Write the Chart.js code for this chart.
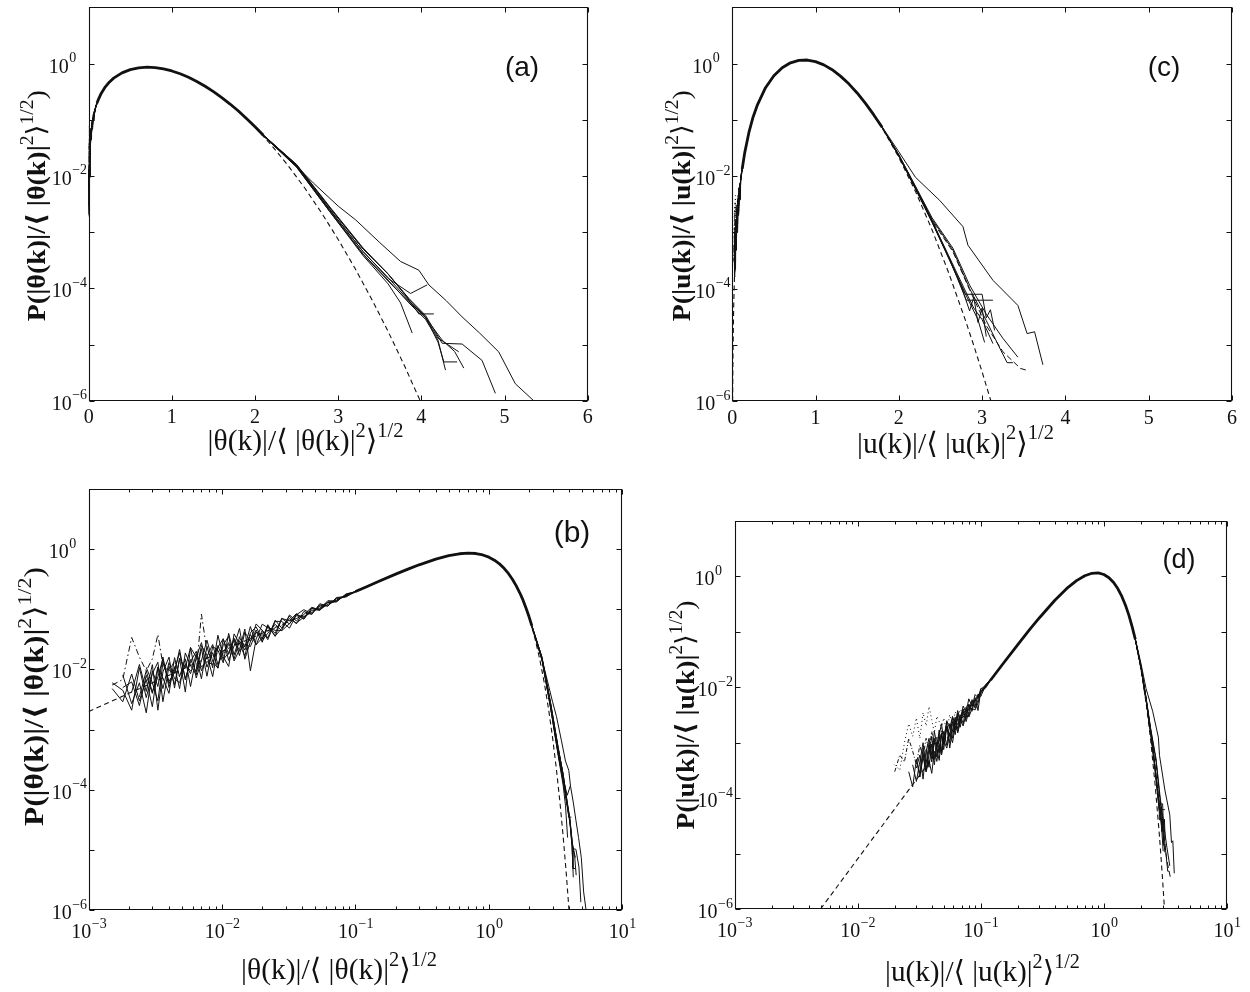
<!DOCTYPE html>
<html>
<head>
<meta charset="utf-8">
<title>PDFs of normalized Fourier amplitudes</title>
<script src="https://cdn.jsdelivr.net/npm/chart.js@4.4.1/dist/chart.umd.min.js"></script>
<style>
html,body{margin:0;padding:0;background:#fff;overflow:hidden;width:1250px;height:992px;}
canvas{position:absolute;left:0;top:0;}
</style>
</head>
<body>
<canvas id="pa" width="1250" height="992"></canvas>
<canvas id="pc" width="1250" height="992"></canvas>
<canvas id="pb" width="1250" height="992"></canvas>
<canvas id="pd" width="1250" height="992"></canvas>
<script>
// ---------------- tick values / labels ----------------
const yTickValues = [1e-6, 1e-5, 1e-4, 1e-3, 1e-2, 1e-1, 1, 10];
const yLabelExps = [0, -2, -4, -6];
const xLinTicks = [0, 1, 2, 3, 4, 5, 6];
const xLogTicks = [1e-3, 1e-2, 1e-1, 1, 10];
const xLogExps = [-3, -2, -1, 0, 1];
const xMinorMult = [2, 3, 4, 5, 6, 7, 8, 9];

// ---------------- scalar |theta(k)| data (panels a, b) ----------------
const thetaModel = [[0.001,0.002],[0.002,0.004],[0.005,0.01],[0.01,0.02],[0.02,0.04],[0.05,0.0995],[0.1,0.198],[0.15,0.293],[0.2,0.384],[0.3,0.549],[0.4,0.682],[0.5,0.779],[0.6,0.838],[0.7,0.858],[0.8,0.844],[0.9,0.80],[1.0,0.736],[1.2,0.569],[1.4,0.394],[1.6,0.246],[1.8,0.141],[2.0,0.0733],[2.2,0.0348],[2.4,0.0151],[2.6,0.00602],[2.8,0.0022],[3.0,0.00074],[3.2,0.000229],[3.4,0.0000652],[3.6,0.0000171],[3.8,0.0000041],[3.9,0.0000019],[4.0,0.0000009],[4.05,0.0000006]];

const thetaLowX = [0.0015,0.0018,0.0021,0.0024,0.0027,0.003,0.0033,0.0036,0.004,0.0044,0.0048,0.0053,0.0058,0.0064,0.007,0.0077,0.0085,0.0093,0.0102,0.0112,0.0123,0.0135,0.0148,0.0163,0.018,0.02,0.022,0.025,0.028,0.032,0.036,0.041,0.047,0.054,0.062,0.072,0.085,0.1];
const thetaLow1 = [.0048,.0029,.0084,.0030,.0068,.0024,.0105,.0072,.0040,.0157,.0076,.0150,.0052,.0161,.0279,.0109,.0191,.0105,.0323,.0178,.0310,.0170,.0418,.0291,.0453,.0283,.0529,.0397,.0705,.0570,.0827,.0682,.103,.0962,.133,.134,.178,.196];
const thetaLow2 = [null,.0081,.0027,.0060,.0019,.0095,.0052,.0161,.0050,.0111,.0048,.0188,.0116,.0081,.0222,.0077,.0240,.0209,.0129,.0398,.0174,.0340,.0235,.0517,.0255,.0449,.0334,.0659,.0488,.0769,.0572,.0920,.0819,.124,.113,.153,.160,.200];
const thetaLow3 = [null,null,.0042,.0121,.0043,.0120,.0021,.0091,.0160,.0049,.0152,.0042,.0231,.0161,.0070,.0244,.0107,.0371,.0162,.0112,.0390,.0270,.0166,.0410,.0509,.0318,.0554,.0354,.0705,.0640,.0846,.0698,.105,.101,.139,.137,.176,.191];
const thetaLow4 = [null,null,null,null,.0108,.0060,.0030,.0128,.0064,.0088,.0215,.0067,.0146,.0091,.0249,.0173,.0076,.0234,.0323,.0141,.0246,.0480,.0148,.0290,.0571,.0449,.0312,.0630,.0628,.0486,.0808,.0986,.0838,.118,.113,.157,.164,.196];
const thetaLow5 = [.0060,.0045,.0021,.0107,.0034,.0085,.0132,.0029,.0113,.0056,.0152,.0106,.0231,.0072,.0140,.0307,.0135,.0105,.0257,.0355,.0138,.0214,.0469,.0095,.0321,.0565,.0494,.0446,.0445,.0806,.0642,.0820,.108,.0962,.130,.133,.180,.196];
const thetaLow6 = [.0055,.0068,.0340,.0160,.0095,.0150,.0380,.0120,.0090,.0140,.0075,.0120,.0095,.0093,.0830,.0200,.0150,.0250,.0170,.0260,.0230,.0350,.0240,.0330,.0400,.0370,.0450,.0480,.0540,.0650,.0700,.0800,.0910,.105,.120,.140,.165,.196];
const thetaLow7 = [null,null,null,.0035,.0095,.0042,.0075,.0150,.0058,.0098,.0190,.0070,.0135,.0200,.0095,.0165,.0260,.0120,.0190,.0280,.0150,.0300,.0210,.0380,.0260,.0330,.0520,.0360,.0480,.0700,.0590,.0740,.0960,.0990,.120,.150,.166,.197];
const thetaLow8 = [null,.0050,.0062,.0025,.0080,.0040,.0110,.0048,.0130,.0070,.0060,.0125,.0085,.0180,.0110,.0135,.0120,.0250,.0145,.0190,.0330,.0200,.0260,.0240,.0420,.0300,.0400,.0560,.0440,.0580,.0780,.0760,.0880,.112,.128,.140,.172,.198];

const thetaMid = [[0.1,0.198],[0.12,0.235],[0.15,0.293],[0.2,0.384],[0.25,0.47],[0.3,0.549],[0.4,0.682],[0.5,0.779],[0.6,0.838],[0.7,0.86],[0.8,0.846],[0.9,0.80],[1.0,0.736],[1.1,0.656],[1.2,0.569],[1.3,0.480],[1.4,0.394],[1.5,0.316],[1.6,0.247],[1.7,0.190],[1.8,0.143],[1.9,0.104],[2.0,0.075],[2.1,0.053]];

const thetaTail1 = [[2.1,0.054],[2.4,0.021],[2.7,0.0075],[3.0,0.0029],[3.21,0.00165],[3.5,0.00065],[3.75,0.0003],[3.97,0.00021],[4.09,0.000115],[4.3,0.00006],[4.49,0.000031],[4.7,0.000016],[4.93,0.0000074],[5.13,0.000002],[5.35,0.000001]];
const thetaTail2 = [[2.1,0.053],[2.5,0.016],[2.9,0.0028],[3.3,0.00052],[3.6,0.00018],[3.85,0.000066],[4.05,0.000033],[4.25,0.0000105],[4.49,0.0000102],[4.73,0.0000052],[4.89,0.00000135]];
const thetaTail3 = [[2.1,0.052],[2.5,0.0142],[2.9,0.0023],[3.3,0.00038],[3.6,0.00012],[3.75,0.000055],[3.89,0.000016]];
const thetaTail4 = [[2.1,0.052],[2.5,0.015],[2.9,0.0025],[3.3,0.00045],[3.6,0.00015],[3.87,0.000081],[4.07,0.000115]];
const thetaTail5 = [[2.1,0.053],[2.5,0.0158],[2.9,0.0027],[3.3,0.0005],[3.6,0.00018],[3.8,0.000078],[3.97,0.000035],[4.15,0.000035]];
const thetaTail6 = [[2.1,0.052],[2.5,0.0148],[2.9,0.0024],[3.3,0.00041],[3.6,0.00014],[3.85,0.000055],[4.05,0.000028],[4.2,0.000012],[4.29,0.0000035]];
const thetaTail7 = [[2.1,0.052],[2.5,0.015],[2.9,0.0025],[3.3,0.00045],[3.6,0.000155],[3.85,0.00006],[4.05,0.00003],[4.25,0.000012],[4.4,0.0000075],[4.51,0.0000038]];
const thetaTail8 = [[2.1,0.053],[2.5,0.0155],[2.9,0.0027],[3.3,0.0005],[3.6,0.00018],[3.85,0.000064],[4.05,0.000031],[4.2,0.000011],[4.27,0.0000049],[4.43,0.0000049]];
const thetaTail9 = [[2.1,0.052],[2.5,0.0145],[2.9,0.0023],[3.3,0.0004],[3.6,0.000135],[3.85,0.000058],[4.05,0.00003],[4.2,0.000013],[4.45,0.0000074]];

// ---------------- velocity |u(k)| data (panels c, d) ----------------
const velModel = [[0.005,0.000001],[0.007,0.00000274],[0.01,0.000008],[0.015,0.000027],[0.02,0.000064],[0.03,0.000216],[0.05,0.000995],[0.07,0.00271],[0.1,0.00784],[0.15,0.0258],[0.2,0.0591],[0.3,0.180],[0.4,0.372],[0.5,0.607],[0.6,0.841],[0.7,1.03],[0.8,1.139],[0.9,1.155],[1.0,1.083],[1.1,0.947],[1.2,0.776],[1.4,0.436],[1.6,0.196],[1.8,0.0715],[2.0,0.0215],[2.2,0.00533],[2.4,0.0011],[2.6,0.000188],[2.8,0.0000272],[2.9,0.0000097],[3.0,0.0000033],[3.1,0.00000107],[3.15,0.0000006]];

const velLowX = [0.02,0.022,0.024,0.026,0.028,0.03,0.032,0.034,0.036,0.038,0.04,0.042,0.044,0.046,0.048,0.05,0.053,0.056,0.059,0.062,0.065,0.068,0.072,0.076,0.08,0.085,0.09,0.095,0.1,0.11,0.12];
const velLow1 = [null,null,null,3.0e-4,1.6e-4,5.0e-4,2.4e-4,6.5e-4,3.0e-4,8.0e-4,4.5e-4,1.1e-3,5.5e-4,1.3e-3,7.0e-4,1.6e-3,9.0e-4,2.2e-3,1.2e-3,2.6e-3,1.8e-3,3.2e-3,2.2e-3,4.4e-3,3.0e-3,5.6e-3,4.6e-3,7.6e-3,6.8e-3,1.12e-2,1.38e-2];
const velLow2 = [null,null,null,null,null,3.5e-4,6.0e-4,2.2e-4,7.5e-4,3.6e-4,9.5e-4,4.0e-4,1.0e-3,6.5e-4,1.5e-3,7.5e-4,1.9e-3,1.0e-3,2.4e-3,1.4e-3,3.0e-3,1.9e-3,3.6e-3,2.7e-3,5.0e-3,3.7e-3,6.5e-3,3.8e-3,8.6e-3,9.8e-3,1.32e-2];
const velLow3 = [null,null,null,null,4.0e-4,2.0e-4,4.5e-4,1.0e-3,3.2e-4,6.0e-4,1.3e-3,5.0e-4,8.5e-4,1.7e-3,6.0e-4,1.2e-3,2.3e-3,8.0e-4,1.7e-3,2.9e-3,1.5e-3,2.3e-3,4.0e-3,2.4e-3,3.6e-3,6.0e-3,4.2e-3,5.9e-3,9.5e-3,1.0e-2,1.4e-2];
const velLow4 = [null,null,null,null,null,null,2.4e-4,5.5e-4,3.0e-4,4.8e-4,2.8e-4,7.0e-4,4.6e-4,9.0e-4,6.0e-4,1.1e-3,8.0e-4,1.5e-3,1.0e-3,2.0e-3,1.6e-3,2.6e-3,2.0e-3,3.3e-3,2.9e-3,4.1e-3,3.9e-3,5.2e-3,7.9e-3,1.07e-2,1.35e-2];
const velLow5 = [null,null,null,null,null,null,null,null,7.0e-4,1.2e-3,6.0e-4,1.6e-3,9.0e-4,1.4e-3,2.2e-3,1.1e-3,2.5e-3,1.8e-3,3.0e-3,2.1e-3,3.8e-3,2.6e-3,4.6e-3,3.5e-3,6.2e-3,4.5e-3,7.4e-3,6.5e-3,9.0e-3,1.12e-2,1.40e-2];
const velLow6 = [4.0e-4,3.2e-4,1.0e-3,2.2e-3,1.3e-3,2.8e-3,1.2e-3,3.5e-3,2.0e-3,4.5e-3,2.6e-3,1.5e-3,3.0e-3,2.4e-3,1.8e-3,2.8e-3,1.6e-3,3.2e-3,2.0e-3,3.6e-3,2.8e-3,4.0e-3,3.4e-3,4.6e-3,4.2e-3,5.4e-3,5.6e-3,6.8e-3,7.8e-3,1.04e-2,1.34e-2];
const velLow7 = [3.0e-4,6.0e-4,4.5e-4,1.2e-3,7.0e-4,4.0e-4,9.0e-4,5.5e-4,1.2e-3,7.0e-4,1.6e-3,9.0e-4,1.3e-3,8.0e-4,1.7e-3,1.2e-3,2.0e-3,1.4e-3,2.4e-3,1.9e-3,2.8e-3,2.3e-3,3.3e-3,3.0e-3,4.4e-3,4.6e-3,5.5e-3,6.5e-3,7.6e-3,1.05e-2,1.33e-2];
const velLow8 = [null,null,null,null,null,5.0e-4,2.8e-4,8.0e-4,4.2e-4,1.0e-3,5.2e-4,1.2e-3,7.5e-4,4.8e-4,1.4e-3,9.5e-4,2.0e-3,1.3e-3,2.8e-3,1.7e-3,3.4e-3,2.5e-3,4.0e-3,3.2e-3,4.8e-3,4.0e-3,6.0e-3,7.0e-3,8.2e-3,1.1e-2,1.36e-2];

const velMid = [[0.12,0.0134],[0.15,0.0258],[0.2,0.059],[0.25,0.111],[0.3,0.180],[0.4,0.372],[0.5,0.607],[0.6,0.841],[0.7,1.03],[0.8,1.14],[0.9,1.155],[1.0,1.083],[1.1,0.947],[1.2,0.776],[1.3,0.598],[1.4,0.436],[1.5,0.30],[1.6,0.196],[1.7,0.122],[1.8,0.0735]];

const velTail1 = [[1.8,0.075],[2.0,0.027],[2.2,0.0095],[2.49,0.0037],[2.77,0.00126],[2.83,0.00059],[3.13,0.00014],[3.43,0.00005],[3.54,0.0000158],[3.63,0.000017],[3.73,0.0000044]];
const velTail2 = [[1.8,0.074],[2.0,0.024],[2.2,0.0066],[2.4,0.0018],[2.65,0.00052],[2.85,0.000115],[3.05,0.000035],[3.25,0.000013],[3.43,0.000006]];
const velTail3 = [[1.8,0.074],[2.0,0.024],[2.2,0.0064],[2.4,0.0017],[2.65,0.00048],[2.85,0.0001],[3.05,0.000027],[3.2,0.0000095],[3.3,0.0000048],[3.37,0.0000048]];
const velTail4 = [[1.8,0.073],[2.0,0.023],[2.2,0.006],[2.4,0.0016],[2.65,0.00045],[2.85,0.000095],[3.05,0.000022],[3.25,0.0000075],[3.46,0.0000038],[3.54,0.0000035]];
const velTail5 = [[1.8,0.073],[2.0,0.023],[2.2,0.006],[2.4,0.0015],[2.6,0.00036],[2.8,0.00008],[2.95,0.000028],[3.03,0.000011]];
const velTail6 = [[1.8,0.073],[2.0,0.0232],[2.2,0.0061],[2.4,0.0016],[2.6,0.00038],[2.8,0.00009],[2.9,0.000045],[3.0,0.000028],[3.13,0.0000105]];
const velTail7 = [[1.8,0.073],[2.0,0.023],[2.2,0.0062],[2.4,0.0016],[2.6,0.00036],[2.81,0.000062],[3.13,0.000062]];
const velTail8 = [[1.8,0.073],[2.0,0.0228],[2.2,0.0059],[2.4,0.0015],[2.6,0.00034],[2.8,0.000079],[3.0,0.000079],[3.05,0.00003],[3.1,0.000042],[3.15,0.000018]];
const velTail9 = [[1.8,0.073],[2.0,0.023],[2.2,0.006],[2.4,0.00155],[2.6,0.00035],[2.75,0.00011],[2.85,0.00004],[2.9,0.00007],[2.95,0.000025],[3.0,0.000045],[3.05,0.000014]];

// ---------------- helpers ----------------
const SERIF = "'Liberation Serif','Times New Roman','DejaVu Serif','DejaVu Sans',serif";
const SANS = "'Liberation Sans',Arial,'DejaVu Sans',sans-serif";
const INK = '#111';

function pts(pairs){ return pairs.map(p => ({x:p[0], y:p[1]})); }
function gridPts(xs, ys){ const out=[]; xs.forEach((x,i)=>{ if(ys[i]!=null) out.push({x:x, y:ys[i]}); }); return out; }
function lineDs(data, o){
  o = o || {};
  return {data:data, borderColor:INK, borderWidth:o.width||1, borderDash:o.dash||[], pointRadius:0,
          fill:false, tension:0, borderJoinStyle:'round', borderCapStyle:'butt', spanGaps:false};
}
function thetaSets(){
  const ds = [lineDs(pts(thetaModel), {dash:[5,3.5], width:1.1})];
  [thetaLow1,thetaLow2,thetaLow3,thetaLow4,thetaLow5,thetaLow7,thetaLow8].forEach(a => ds.push(lineDs(gridPts(thetaLowX,a))));
  ds.push(lineDs(gridPts(thetaLowX,thetaLow6), {dash:[6,3,1.5,3]}));
  ds.push(lineDs(pts(thetaMid), {width:2.8}));
  [thetaTail1,thetaTail2,thetaTail3,thetaTail4,thetaTail5,thetaTail6,thetaTail7,thetaTail8,thetaTail9]
    .forEach(a => ds.push(lineDs(pts(a))));
  return ds;
}
function velSets(){
  const ds = [lineDs(pts(velModel), {dash:[5,3.5], width:1.1})];
  [velLow1,velLow2,velLow3,velLow4,velLow5,velLow8].forEach(a => ds.push(lineDs(gridPts(velLowX,a))));
  ds.push(lineDs(gridPts(velLowX,velLow6), {dash:[1,3]}));
  ds.push(lineDs(gridPts(velLowX,velLow7), {dash:[4,2,1,2]}));
  ds.push(lineDs(pts(velMid), {width:2.8}));
  [velTail1,velTail2,velTail3,velTail5,velTail6,velTail7,velTail8,velTail9].forEach(a => ds.push(lineDs(pts(a))));
  ds.push(lineDs(pts(velTail4), {dash:[6,3]}));
  return ds;
}

function fnt(size, bold){ return (bold ? 'bold ' : '') + size.toFixed(2) + 'px ' + SERIF; }
function richMeasure(ctx, segs, size, sup){
  let w = 0;
  segs.forEach(s => { ctx.font = fnt(s.sup ? sup : size, s.bold); w += ctx.measureText(s.t).width; });
  return w;
}
function richDraw(ctx, segs, x, base, size, sup, rise){
  segs.forEach(s => {
    ctx.font = fnt(s.sup ? sup : size, s.bold);
    ctx.fillText(s.t, x, s.sup ? base - rise : base);
    x += ctx.measureText(s.t).width;
  });
}
function fitRich(ctx, segs, target){
  const k = target / richMeasure(ctx, segs, 26, 18);
  return {size:26*k, sup:18*k, rise:11.5*k};
}
function expStr(e){ return e < 0 ? '\u2212' + (-e) : String(e); }

function xTitleSegs(v){ return [{t:'|'+v+'(k)|/\u27e8 |'+v+'(k)|'},{t:'2',sup:true},{t:'\u27e9'},{t:'1/2',sup:true}]; }
function yTitleSegs(v){ return [{t:'P(|'+v+'(k)|/\u27e8 |'+v+'(k)|',bold:true},{t:'2',sup:true},{t:'\u27e9'},{t:'1/2',sup:true},{t:')'}]; }

const TICK_FS = 20, TICK_SUP = 14;

function makeAxesPlugin(spec){
  return {
    id: 'paperAxes',
    afterDraw(chart){
      const ctx = chart.ctx, a = chart.chartArea, xs = chart.scales.x, ys = chart.scales.y;
      const L = Math.round(a.left)+0.5, R = Math.round(a.right)-0.5, T = Math.round(a.top)+0.5, B = Math.round(a.bottom)-0.5;
      ctx.save();
      ctx.strokeStyle = '#111'; ctx.lineWidth = 1.1; ctx.setLineDash([]);
      ctx.beginPath(); ctx.rect(L, T, R-L, B-T); ctx.stroke();
      ctx.lineWidth = 1;
      ctx.beginPath();
      yTickValues.forEach(v => {
        const p = Math.round(ys.getPixelForValue(v)) + 0.5;
        ctx.moveTo(L, p); ctx.lineTo(L+5, p); ctx.moveTo(R, p); ctx.lineTo(R-5, p);
      });
      if (spec.xlog) {
        xLogTicks.forEach(v => {
          const p = Math.round(xs.getPixelForValue(v)) + 0.5;
          ctx.moveTo(p, B); ctx.lineTo(p, B-5); ctx.moveTo(p, T); ctx.lineTo(p, T+5);
        });
        xLogTicks.slice(0, -1).forEach(d => xMinorMult.forEach(m => {
          const p = Math.round(xs.getPixelForValue(d*m)) + 0.5;
          ctx.moveTo(p, B); ctx.lineTo(p, B-3); ctx.moveTo(p, T); ctx.lineTo(p, T+3);
        }));
      } else {
        xLinTicks.forEach(v => {
          const p = Math.round(xs.getPixelForValue(v)) + 0.5;
          ctx.moveTo(p, B); ctx.lineTo(p, B-5); ctx.moveTo(p, T); ctx.lineTo(p, T+5);
        });
      }
      ctx.stroke();

      ctx.fillStyle = INK; ctx.textBaseline = 'alphabetic'; ctx.textAlign = 'left';
      // y tick labels
      yLabelExps.forEach(e => {
        const p = ys.getPixelForValue(Math.pow(10, e));
        ctx.font = fnt(TICK_FS); const w10 = ctx.measureText('10').width;
        const xr = a.left - 17 - (e === 0 ? 3 : 0);
        ctx.fillText('10', xr - w10, p + 9);
        ctx.font = fnt(TICK_SUP); ctx.fillText(expStr(e), xr + 0.5, p - 1.5);
      });
      // x tick labels
      if (spec.xlog) {
        xLogTicks.forEach((v, i) => {
          const p = xs.getPixelForValue(v);
          ctx.font = fnt(TICK_FS); const w10 = ctx.measureText('10').width;
          ctx.font = fnt(TICK_SUP); const we = ctx.measureText(expStr(xLogExps[i])).width;
          const x0 = p - (w10 + we) / 2;
          ctx.font = fnt(TICK_FS); ctx.fillText('10', x0, a.bottom + 28);
          ctx.font = fnt(TICK_SUP); ctx.fillText(expStr(xLogExps[i]), x0 + w10 + 0.5, a.bottom + 17.5);
        });
      } else {
        ctx.textAlign = 'center';
        ctx.font = fnt(TICK_FS);
        xLinTicks.forEach(v => ctx.fillText(String(v), xs.getPixelForValue(v), a.bottom + 22.5));
        ctx.textAlign = 'left';
      }
      // x axis title
      const xs1 = xTitleSegs(spec.v), f1 = fitRich(ctx, xs1, spec.xTitle.w);
      const w1 = richMeasure(ctx, xs1, f1.size, f1.sup);
      richDraw(ctx, xs1, spec.xTitle.cx - w1/2, spec.xTitle.base, f1.size, f1.sup, f1.rise);

      // y axis title (rotated, condensed to the measured length)
      const ys1 = yTitleSegs(spec.v);
      const ysz = spec.yTitle.size, ysup = ysz * 0.7, yrise = ysz * 0.45;
      const w2 = richMeasure(ctx, ys1, ysz, ysup);
      const sx = spec.yTitle.w / w2;
      ctx.save();
      ctx.translate(spec.yTitle.bx, spec.yTitle.cy);
      ctx.rotate(-Math.PI/2);
      ctx.scale(sx, 1);
      richDraw(ctx, ys1, -w2/2, 0, ysz, ysup, yrise);
      ctx.restore();

      // panel tag
      ctx.font = spec.tagSize + 'px ' + SANS; ctx.textAlign = 'center';
      ctx.fillText(spec.tag, spec.tagPos[0], spec.tagPos[1]);
      ctx.restore();
    }
  };
}

const panelSpecs = [
  {canvas:'pa', box:[88.7,7.3,587.7,400.7], xlog:false, v:'\u03b8', sets:thetaSets, tag:'(a)', tagPos:[522,76], tagSize:28,
   xTitle:{cx:305.5, base:450, w:196}, yTitle:{bx:45, cy:205.7, w:231, size:26}},
  {canvas:'pc', box:[732.2,7.3,1232,401], xlog:false, v:'u', sets:velSets, tag:'(c)', tagPos:[1164,76], tagSize:28,
   xTitle:{cx:955.5, base:452.5, w:197}, yTitle:{bx:689.5, cy:205.7, w:231, size:26}},
  {canvas:'pb', box:[88.7,489,622.3,910], xlog:true, v:'\u03b8', sets:thetaSets, tag:'(b)', tagPos:[572,542], tagSize:30,
   xTitle:{cx:339, base:979, w:196}, yTitle:{bx:43, cy:696.5, w:259, size:27}},
  {canvas:'pd', box:[734.5,521,1227,909], xlog:true, v:'u', sets:velSets, tag:'(d)', tagPos:[1179,568], tagSize:27,
   xTitle:{cx:982.5, base:981, w:195}, yTitle:{bx:693.5, cy:715, w:229, size:26}}
];

panelSpecs.forEach(spec => {
  const [l, t, r, b] = spec.box;
  new Chart(document.getElementById(spec.canvas), {
    type: 'line',
    data: {datasets: spec.sets()},
    options: {
      responsive: false, animation: false, devicePixelRatio: 1, events: [],
      layout: {padding: {left:l, top:t, right:1250-r, bottom:992-b}},
      plugins: {legend:{display:false}, tooltip:{enabled:false}, title:{display:false}},
      scales: {
        x: spec.xlog ? {type:'logarithmic', min:1e-3, max:10, display:false}
                     : {type:'linear', min:0, max:6, display:false},
        y: {type:'logarithmic', min:1e-6, max:10, display:false}
      }
    },
    plugins: [makeAxesPlugin(spec)]
  });
});
</script>
</body>
</html>
